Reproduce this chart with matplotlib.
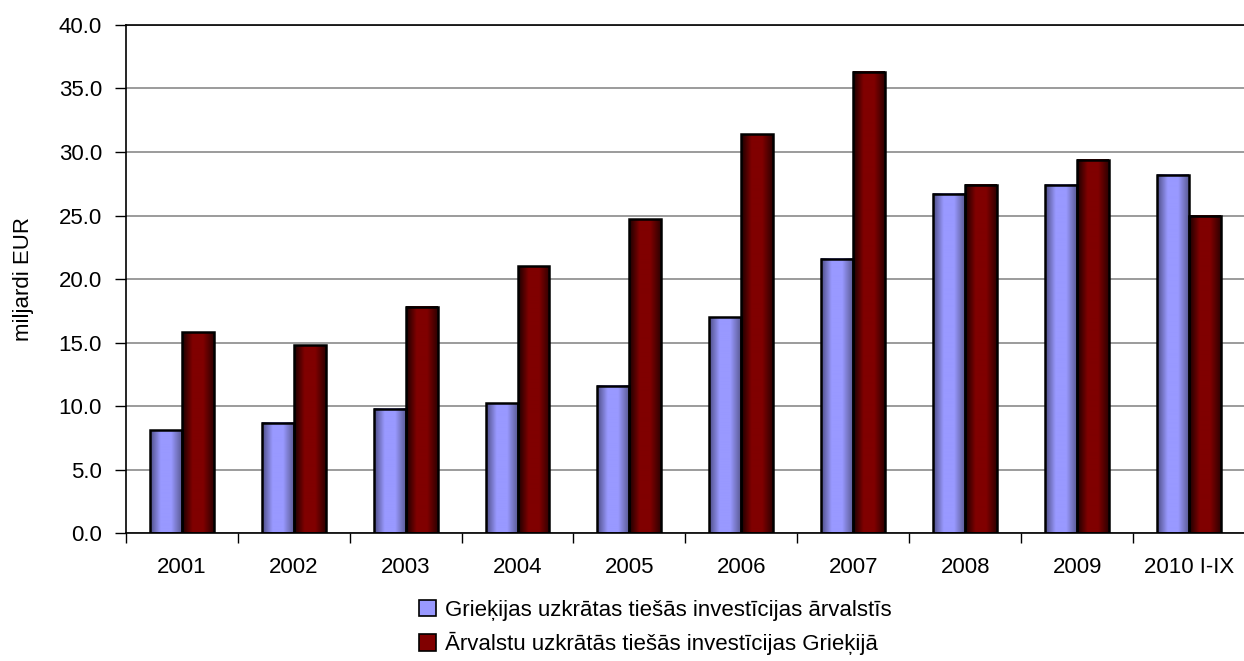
import numpy as np
import matplotlib
matplotlib.use('Agg')
import matplotlib.pyplot as plt
from matplotlib.colors import LinearSegmentedColormap
from matplotlib.patches import Patch
from matplotlib.ticker import FormatStrFormatter, FixedLocator

plt.rcParams['font.family'] = ['Liberation Sans', 'DejaVu Sans']

years = ['2001', '2002', '2003', '2004', '2005', '2006', '2007', '2008', '2009', '2010 I-IX']
greek_abroad = [8.1, 8.7, 9.8, 10.2, 11.6, 17.0, 21.6, 26.7, 27.4, 28.2]
foreign_in_greece = [15.8, 14.8, 17.8, 21.0, 24.7, 31.4, 36.3, 27.4, 29.4, 25.0]
labels = ['Grieķijas uzkrātas tiešās investīcijas ārvalstīs',
          'Ārvalstu uzkrātās tiešās investīcijas Grieķijā']

blue = '#9999ff'
red = '#800000'
blue_cmap = LinearSegmentedColormap.from_list('b', ['#4e4e86', '#9999ff', '#9999ff', '#5c5c96'])
red_cmap = LinearSegmentedColormap.from_list('r', ['#1a0000', '#800000', '#800000', '#300000'])

fs = 16

fig = plt.figure(figsize=(12.44, 6.61), dpi=100)
ax = fig.add_axes([0.101, 0.1936, 0.9, 0.7686])

x = np.arange(len(years))
w = 0.2857
grad = np.linspace(0, 1, 64).reshape(1, -1)

def gradient_bars(xs, vals, cmap):
    bars = ax.bar(xs, vals, w, facecolor='none', edgecolor='black', linewidth=1.8, zorder=3)
    for b in bars:
        bx, bw, bh = b.get_x(), b.get_width(), b.get_height()
        ax.imshow(grad, extent=[bx, bx + bw, 0, bh], aspect='auto', cmap=cmap, zorder=2,
                  interpolation='bilinear')
    return bars

gradient_bars(x - w / 2, greek_abroad, blue_cmap)
gradient_bars(x + w / 2, foreign_in_greece, red_cmap)

ax.set_xlim(-0.5, len(years) - 0.5)
ax.set_ylim(0, 40)
ax.set_yticks(np.arange(0, 40.1, 5))
ax.yaxis.set_major_formatter(FormatStrFormatter('%.1f'))
ax.yaxis.grid(True, color='#808080', linewidth=1.1, zorder=0)
ax.set_axisbelow(True)

ax.set_xticks(x)
ax.set_xticklabels(years)
ax.xaxis.set_minor_locator(FixedLocator(np.arange(-0.5, len(years), 1.0)))
ax.tick_params(axis='x', which='major', length=0, pad=17, labelsize=fs)
ax.tick_params(axis='x', which='minor', length=7, width=1, direction='out')
ax.tick_params(axis='y', length=8, width=1, pad=9, labelsize=fs)

ax.spines['right'].set_visible(False)
for s in ['left', 'bottom', 'top']:
    ax.spines[s].set_linewidth(1.2)
    ax.spines[s].set_color('black')

fig.text(24 / 1244, 1 - 279 / 661, 'miljardi EUR', rotation=90, ha='center', va='center', fontsize=fs)

handles = [Patch(facecolor=blue, edgecolor='black', linewidth=1.2),
           Patch(facecolor=red, edgecolor='black', linewidth=1.2)]
fig.legend(handles, labels, loc='upper left', bbox_to_anchor=(419 / 1244, 1 - 600 / 661),
           frameon=False, fontsize=fs, handlelength=0.75, handleheight=0.75,
           handletextpad=0.4, labelspacing=0.5, borderpad=0, borderaxespad=0)

fig.savefig('out.png', dpi=100)
